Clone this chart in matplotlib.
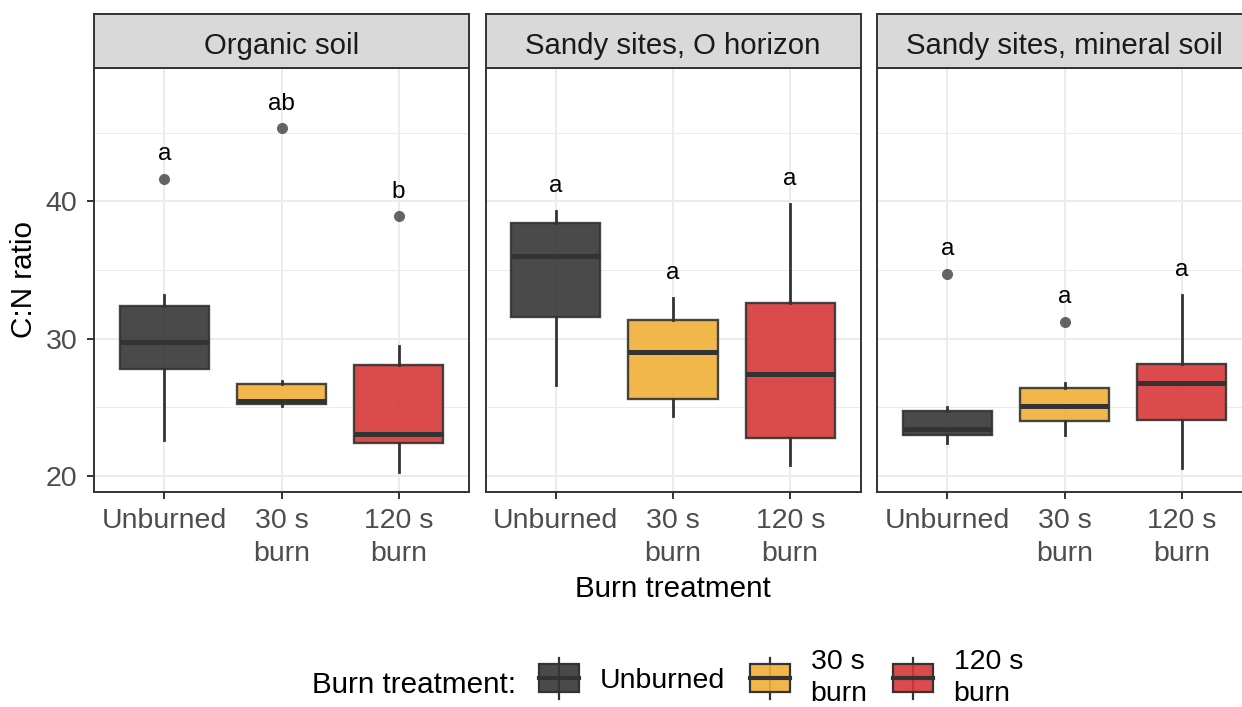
import matplotlib
matplotlib.use("Agg")
import matplotlib.pyplot as plt
from matplotlib.patches import Patch, Rectangle
from matplotlib.lines import Line2D
from matplotlib.legend_handler import HandlerBase
from matplotlib.ticker import MultipleLocator

plt.rcParams['font.family'] = ['Liberation Sans', 'DejaVu Sans']

# Facets and treatments
panels = ["Organic soil", "Sandy sites, O horizon", "Sandy sites, mineral soil"]
treatments = ["Unburned", "30 s\nburn", "120 s\nburn"]

# Box statistics (per panel, per treatment)
medians = [[29.8, 25.5, 23.1], [36.05, 29.0, 27.4], [23.4, 25.1, 26.8]]
q1s = [[27.8, 25.25, 22.4], [31.6, 25.65, 22.8], [23.0, 24.0, 24.1]]
q3s = [[32.4, 26.7, 28.1], [38.4, 31.4, 32.6], [24.75, 26.45, 28.15]]
whis_lo = [[22.6, 25.1, 20.3], [26.6, 24.4, 20.8], [22.4, 23.0, 20.6]]
whis_hi = [[33.2, 26.9, 29.5], [39.3, 33.0, 39.8], [25.0, 26.8, 33.2]]
outliers = [[[41.6], [45.3], [38.9]], [[], [], []], [[34.7], [31.2], []]]
letters = [["a", "ab", "b"], ["a", "a", "a"], ["a", "a", "a"]]

fills = ["#363636", "#F0B037", "#D83737"]
edge = "#333333"
W, H = 1242, 707


class BoxKeyHandler(HandlerBase):
    # legend key that looks like a small boxplot
    def create_artists(self, legend, orig_handle, xdescent, ydescent,
                       width, height, fontsize, trans):
        x0, y0 = -xdescent, -ydescent
        cx = x0 + width / 2
        whisk = Line2D([cx, cx], [y0 - 0.25 * height, y0 + 1.25 * height],
                       color=edge, lw=1.6, transform=trans)
        box = Rectangle((x0, y0), width, height, facecolor=orig_handle.get_facecolor(),
                        edgecolor=edge, lw=1.6, transform=trans)
        med = Line2D([x0, x0 + width], [y0 + height / 2] * 2, color=edge,
                     lw=3.0, transform=trans)
        return [whisk, box, med]


fig = plt.figure(figsize=(W / 100, H / 100), dpi=100)

for p, name in enumerate(panels):
    left = 94 + p * 391.5
    ax = fig.add_axes([left / W, 1 - 492 / H, 375 / W, 424 / H])
    stats = []
    for t in range(3):
        stats.append(dict(med=medians[p][t], q1=q1s[p][t], q3=q3s[p][t],
                          whislo=whis_lo[p][t], whishi=whis_hi[p][t],
                          fliers=outliers[p][t]))
    res = ax.bxp(stats, positions=[1, 2, 3], widths=0.76, patch_artist=True,
                 showcaps=False,
                 boxprops=dict(edgecolor=edge, linewidth=1.7),
                 whiskerprops=dict(color=edge, linewidth=2.0),
                 medianprops=dict(color=edge, linewidth=3.6, solid_capstyle='butt'),
                 flierprops=dict(marker='o', markersize=8, markerfacecolor=edge,
                                 markeredgecolor='none', alpha=0.75))
    for box, c in zip(res['boxes'], fills):
        box.set_facecolor(c)
        box.set_alpha(0.9)
        box.set_edgecolor(edge)
    for t in range(3):
        top = max([whis_hi[p][t]] + outliers[p][t])
        ax.text(t + 1, top + 1.37, letters[p][t], ha='center', va='baseline',
                fontsize=17.5, color='black')

    ax.set_xlim(0.4, 3.6)
    ax.set_ylim(18.85, 49.7)
    ax.set_xticks([1, 2, 3])
    ax.set_xticklabels(treatments, linespacing=1.32)
    ax.yaxis.set_major_locator(MultipleLocator(10))
    ax.yaxis.set_minor_locator(MultipleLocator(5))
    ax.grid(True, which='major', color='#ebebeb', lw=1.4)
    ax.grid(True, which='minor', axis='y', color='#ebebeb', lw=0.7)
    ax.set_axisbelow(True)
    ax.tick_params(axis='both', which='major', length=5, width=1.4, color=edge,
                   labelsize=20.5, labelcolor='#4d4d4d')
    ax.tick_params(axis='x', which='major', pad=6.8)
    ax.tick_params(axis='y', which='major', pad=7)
    ax.tick_params(axis='y', which='minor', length=0)
    if p > 0:
        ax.tick_params(axis='y', which='major', length=0, labelleft=False)
    for s in ax.spines.values():
        s.set_color(edge)
        s.set_linewidth(1.4)

    # facet strip
    sax = fig.add_axes([left / W, 1 - 68 / H, 375 / W, 54 / H])
    sax.set_facecolor('#d9d9d9')
    sax.set_xticks([])
    sax.set_yticks([])
    for s in sax.spines.values():
        s.set_color(edge)
        s.set_linewidth(1.4)
    sax.text(0.5, (68 - 54) / 54, name, transform=sax.transAxes, ha='center',
             va='baseline', fontsize=21.2, color='#1a1a1a')

fig.text(673 / W, 1 - 597 / H, "Burn treatment", ha='center', va='baseline',
         fontsize=21.3)
fig.text(24 / W, 1 - 280 / H, "C:N ratio", ha='center', va='center', rotation=90,
         fontsize=21.3)

# legend
fig.text(516 / W, 1 - 693 / H, "Burn treatment:", ha='right', va='baseline',
         fontsize=21.3)
handles = [Patch(facecolor=c, alpha=0.9) for c in fills]
leg = fig.legend(handles, treatments, handler_map={Patch: BoxKeyHandler()},
                 loc='center left', bbox_to_anchor=(539 / W, 1 - 678 / H), ncol=3,
                 frameon=False, fontsize=20.5, borderpad=0, borderaxespad=0,
                 handlelength=1.4, handleheight=1.12, handletextpad=0.72,
                 columnspacing=0.9)
for txt in leg.get_texts():
    txt.set_linespacing(1.26)

fig.savefig("out.png", dpi=100)
